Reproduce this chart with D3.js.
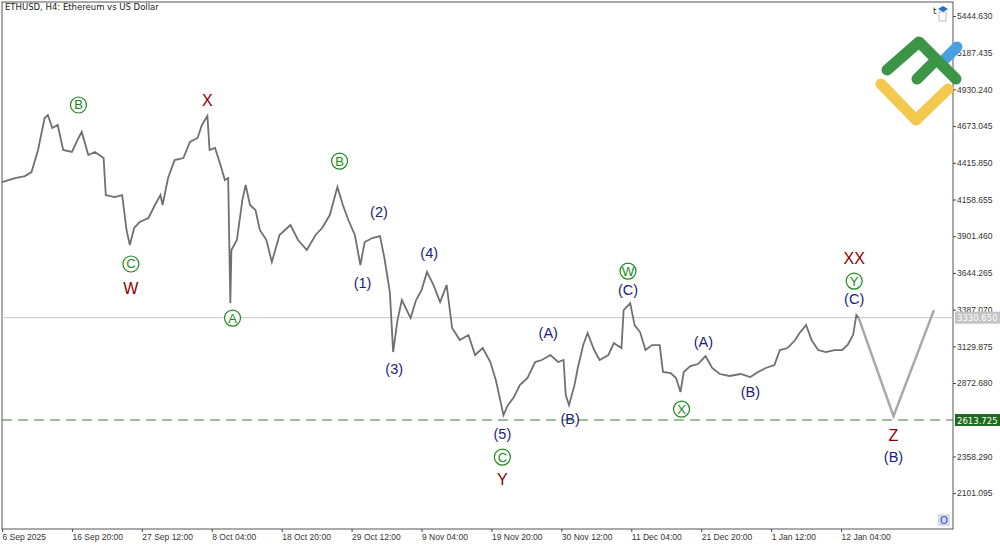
<!DOCTYPE html>
<html>
<head>
<meta charset="utf-8">
<script src="https://cdn.jsdelivr.net/npm/d3@7"></script>
<style>
  body { margin: 0; background: #fff; }
  svg { display: block; font-family: "DejaVu Sans", sans-serif; }
</style>
</head>
<body>
<div id="chart"></div>
<script>
// bar number (4h bars from 6 Sep 2025 00:00) and price
const bars = [0,12,21,27,33,39,42,46,51,56,64,70,73,79,85,93,95,103,110,114,117,121,126,134,140,145,147,152,158,166,172,179,183,188,190,195,200,204,207,209,210,215,220,223,227,232,236,242,247,254,264,271,279,287,293,300,307,312,317,323,328,332,339,346,350,355,358,362,366,374,379,384,389,395,401,407,412,419,427,433,440,447,452,456,459,463,468,474,481,488,494,502,509,514,516,519,524,527,532,536,542,547,555,560,567,569,575,579,584,589,595,602,605,612,617,621,624,630,637,644,650,657,666,676,685,692,699,707,712,719,726,730,736,741,747,754,762,769,774,779,782,784];
const prices = [4281,4309,4323,4351,4506,4730,4751,4660,4681,4506,4492,4590,4632,4470,4492,4449,4190,4176,4190,3945,3840,3959,4001,4029,4120,4190,4120,4309,4435,4449,4562,4590,4681,4744,4506,4520,4400,4295,4309,3433,3805,3875,4155,4260,4120,4085,3945,3875,3721,3910,3980,3875,3805,3910,3959,4050,4246,4120,4015,3910,3700,3861,3889,3903,3749,3510,3090,3314,3454,3328,3454,3524,3651,3559,3440,3559,3258,3174,3209,3069,3118,3020,2894,2753,2648,2718,2767,2858,2908,3020,3034,3069,3020,3034,2788,2718,2858,2978,3139,3223,3104,3034,3069,3153,3118,3384,3433,3279,3230,3104,3139,3139,2950,2942,2908,2810,2950,2992,3006,3062,2978,2936,2922,2936,2915,2950,2978,2999,3104,3118,3174,3223,3279,3174,3104,3090,3104,3104,3139,3209,3349,3330.65];

// forecast path
const projBars = [784, 816, 853];
const projPrices = [3330.65, 2641, 3384];

const priceTicks = [5444.630,5187.435,4930.240,4673.045,4415.850,4158.655,3901.460,3644.265,3387.070,3129.875,2872.680,2358.290,2101.095];
const timeTicks = ["6 Sep 2025","16 Sep 20:00","27 Sep 12:00","8 Oct 04:00","18 Oct 20:00","29 Oct 12:00","9 Nov 04:00","19 Nov 20:00","30 Nov 12:00","11 Dec 04:00","21 Dec 20:00","1 Jan 12:00","12 Jan 04:00"];
const lastPrice = 3330.650;
const levelPrice = 2613.725;

// wave labels: text, bar, price, kind
const waveText  = ["B","X","C","W","A","B","(2)","(1)","(3)","(4)","(5)","C","Y","(A)","(B)","W","(C)","X","(A)","(B)","XX","Y","(C)","Z","(B)"];
const waveBar   = [70,188,118,118,211,309,345,330,359,391,458,458,458,500,520,573,573,622,642,685,780,780,780,816,816];
const wavePrice = [4821,4849,3707,3531,3328,4428,4071,3573,2971,3784,2515,2354,2193,3223,2620,3657,3524,2690,3160,2810,3742,3587,3461,2501,2354];
const waveKind  = ["c","r","c","r","c","c","b","b","b","b","b","c","r","b","b","c","b","c","b","b","r","c","b","r","b"];

const W = 1000, H = 545;
const plot = { left: 2, top: 2, right: 953, bottom: 529 };

const svg = d3.select("#chart").append("svg").attr("width", W).attr("height", H);

const x = d3.scaleLinear().domain([0, 870]).range([plot.left, plot.right - 0.5]);
const y = d3.scaleLinear().domain([5444.63, 2613.725]).range([16, 420]);

// frame
svg.append("rect")
  .attr("x", plot.left).attr("y", plot.top)
  .attr("width", plot.right - plot.left).attr("height", plot.bottom - plot.top)
  .attr("fill", "none").attr("stroke", "#555").attr("stroke-width", 1);

svg.append("text").attr("x", 5).attr("y", 10).attr("font-size", 8.5).attr("fill", "#222")
  .text("ETHUSD, H4:  Ethereum vs US Dollar");

// price axis
const yAxis = svg.append("g").attr("transform", `translate(${plot.right},0)`)
  .call(d3.axisRight(y).tickValues(priceTicks).tickSize(3).tickFormat(d3.format(".3f")));
yAxis.select(".domain").remove();
yAxis.selectAll("line").attr("stroke", "#444");
yAxis.selectAll("text").attr("font-size", 8.5).attr("fill", "#333").attr("x", 4);

// time axis
const tickBars = timeTicks.map((d, i) => i * 64);
const xAxis = svg.append("g").attr("transform", `translate(0,${plot.bottom})`)
  .call(d3.axisBottom(x).tickValues(tickBars).tickSize(3).tickFormat((d, i) => timeTicks[i]));
xAxis.select(".domain").remove();
xAxis.selectAll("line").attr("stroke", "#444");
xAxis.selectAll("text").attr("font-size", 8.5).attr("fill", "#333").attr("text-anchor", "start").attr("dy", "0.6em");

// current price line + dashed level
svg.append("line").attr("x1", plot.left).attr("x2", plot.right)
  .attr("y1", y(lastPrice)).attr("y2", y(lastPrice)).attr("stroke", "#c8c8c8");
svg.append("line").attr("x1", plot.left).attr("x2", plot.right)
  .attr("y1", y(levelPrice)).attr("y2", y(levelPrice))
  .attr("stroke", "#3a7a3a").attr("stroke-dasharray", "10,6").attr("stroke-width", 1);

function priceBox(p, bg, fg) {
  svg.append("rect").attr("x", plot.right + 2).attr("y", y(p) - 6).attr("width", 45).attr("height", 12).attr("fill", bg);
  svg.append("text").attr("x", plot.right + 4).attr("y", y(p) + 3.5).attr("font-size", 8.5).attr("fill", fg)
    .text(p.toFixed(3));
}
priceBox(lastPrice, "#c4c4c4", "#fff");
priceBox(levelPrice, "#1e6b1e", "#fff");

// price series
const line = d3.line().x(d => x(d[0])).y(d => y(d[1])).curve(d3.curveLinear);
svg.append("path").datum(d3.zip(bars, prices))
  .attr("d", line).attr("fill", "none").attr("stroke", "#707070").attr("stroke-width", 1.8);

// forecast
svg.append("path").datum(d3.zip(projBars, projPrices))
  .attr("d", line).attr("fill", "none").attr("stroke", "#a8a8a8").attr("stroke-width", 2.5);

// wave labels
const colors = { c: "#1a8a1a", r: "#8b0000", b: "#1c1c7c" };
waveText.forEach((t, i) => {
  const cx = x(waveBar[i]), cy = y(wavePrice[i]);
  if (waveKind[i] === "c") {
    svg.append("circle").attr("cx", cx).attr("cy", cy).attr("r", 8)
      .attr("fill", "#fff").attr("stroke", colors.c).attr("stroke-width", 1.2);
    svg.append("text").attr("x", cx).attr("y", cy + 4.5).attr("text-anchor", "middle")
      .attr("font-family", "Liberation Sans, Arial").attr("font-size", 13).attr("fill", colors.c).text(t);
  } else {
    svg.append("text").attr("x", cx).attr("y", cy + 5).attr("text-anchor", "middle")
      .attr("font-family", "Liberation Sans, Arial").attr("font-size", waveKind[i] === "r" ? 16 : 14.5)
      .attr("fill", colors[waveKind[i]]).text(t);
  }
});

// logo
const logo = svg.append("g").attr("fill", "none").attr("stroke-linecap", "round").attr("stroke-linejoin", "round").attr("stroke-width", 11);
logo.append("path").attr("d", "M881,84 L916,120 L948,89").attr("stroke", "#f2c94c");
logo.append("path").attr("d", "M942,62 L957,47").attr("stroke", "#4a9fe0");
logo.append("path").attr("d", "M887,70 L919,42 L956,79 M917,79 L933,63").attr("stroke", "#3c9447");

// top-right icons
svg.append("text").attr("x", 933).attr("y", 14).attr("font-size", 9).attr("fill", "#333").text("t");
svg.append("rect").attr("x", 939).attr("y", 12).attr("width", 7).attr("height", 9).attr("fill", "none").attr("stroke", "#bbb");
svg.append("path").attr("d", "M938,9 L943,6 L948,9 L943,12 Z").attr("fill", "#2a6fc0");
svg.append("rect").attr("x", 938).attr("y", 514).attr("width", 12).attr("height", 12).attr("fill", "#d8dce8");
svg.append("text").attr("x", 944).attr("y", 524).attr("text-anchor", "middle").attr("font-size", 10).attr("fill", "#2255dd").text("O");
</script>
</body>
</html>
